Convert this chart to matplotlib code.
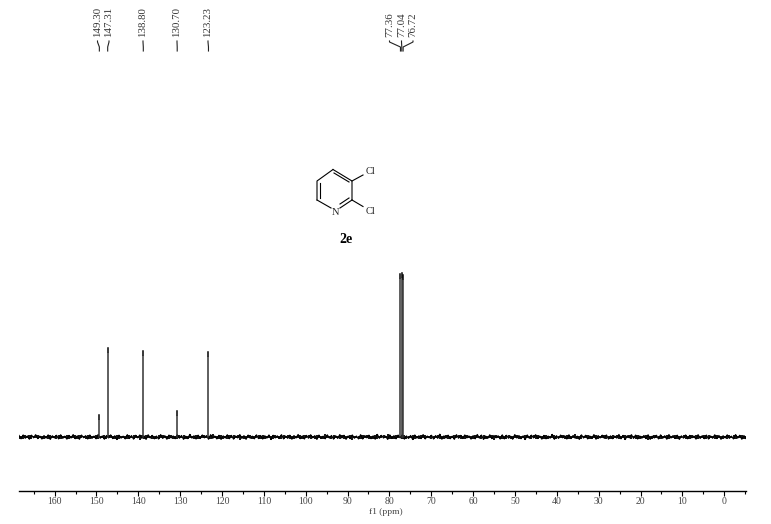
from matplotlib import pyplot as plt
import numpy as np

plt.rcParams['font.family'] = ['Liberation Serif', 'DejaVu Serif']

W, H = 771, 524
BASE_Y = 437
AXIS_Y = 490.5

peak_ppm = [149.30, 147.31, 138.80, 130.70, 123.23, 77.36, 77.04, 76.72]
peak_height = [22, 89, 86, 26, 85, 163, 164, 162]
peak_labels = ['149.30', '147.31', '138.80', '130.70', '123.23', '77.36', '77.04', '76.72']
label_x = [97.5, 109, 143, 177, 208, 389.5, 401.5, 413]

# baseline noise read by eye, left to right, in pixels around zero
noise = [
    1.5, -1.8, 2.0, -1.2, 1.0, -2.2, 1.8, -0.8, 2.3, -1.6, 0.9, -2.0, 1.4, -1.1, 2.1, -2.4, 1.2, -0.9, 1.7, -1.9,
    2.2, -1.3, 0.8, -2.1, 1.6, -1.0, 2.4, -1.7, 1.1, -2.3, 1.9, -0.7, 1.3, -2.0, 2.0, -1.4, 0.9, -1.8, 2.5, -1.2,
    1.0, -2.2, 1.5, -0.9, 2.1, -1.6, 1.2, -2.5, 1.8, -1.1, 0.8, -1.9, 2.3, -1.5, 1.4, -2.1, 1.7, -0.8, 2.0, -1.3,
    1.1, -2.4, 2.2, -1.0, 1.6, -1.8, 0.9, -2.0, 2.4, -1.4, 1.3, -2.2, 1.9, -0.9, 1.0, -1.7, 2.1, -1.2, 1.5, -2.3,
    0.8, -1.6, 2.6, -1.1, 1.2, -2.0, 1.8, -1.5, 2.0, -0.8, 1.4, -2.2, 2.3, -1.3, 0.9, -1.9, 1.7, -2.4, 1.1, -1.0,
    2.2, -1.7, 1.6, -2.1, 1.0, -0.9, 2.4, -1.4, 1.3, -2.3, 1.9, -1.2, 0.8, -1.8, 2.1, -1.6, 1.5, -2.0, 1.2, -1.1,
    2.0, -2.5, 1.7, -0.9, 1.1, -1.5, 2.3, -1.9, 0.9, -1.3, 1.8, -2.2, 1.4, -1.0, 2.5, -1.7, 1.0, -2.0, 1.6, -1.2,
    2.2, -0.8, 1.3, -2.4, 1.9, -1.5, 0.8, -1.8, 2.1, -1.1, 1.5, -2.1, 1.2, -1.4, 2.4, -0.9, 1.7, -2.3, 1.0, -1.6,
    2.0, -1.2, 0.9, -1.9, 2.3, -2.0, 1.4, -0.8, 1.8, -1.7, 1.1, -2.2, 2.6, -1.3, 1.6, -1.0, 0.8, -2.4, 2.1, -1.5,
    1.3, -1.8, 1.9, -0.9, 2.2, -2.1, 1.0, -1.4, 1.5, -2.5, 2.0, -1.1, 1.2, -1.6, 2.4, -1.9, 0.9, -0.8, 1.7, -2.0,
    1.4, -1.3, 2.8, -2.2, 1.1, -1.0, 1.8, -1.7, 0.8, -2.3, 2.3, -1.2, 1.6, -1.5, 2.0, -0.9, 1.0, -2.1, 1.3, -1.8,
    2.5, -1.1, 1.9, -2.4, 0.9, -1.4, 2.2, -1.6, 1.5, -0.8, 1.2, -2.0, 2.1, -1.9, 1.7, -1.2, 0.8, -2.2, 2.4, -1.0,
    1.4, -1.7, 1.1, -2.5, 2.0, -1.3, 1.8, -0.9, 2.3, -1.5, 1.0, -2.1, 1.6, -1.8, 0.9, -1.1, 2.6, -2.3, 1.3, -1.4,
    1.9, -0.8, 1.2, -2.0, 2.2, -1.6, 1.5, -1.2, 0.8, -2.4, 2.1, -1.0, 1.7, -1.9, 1.0, -1.5, 2.4, -2.2, 1.4, -0.9,
    1.8, -1.3, 2.0, -2.1, 1.1, -1.7, 0.9, -1.1, 2.5, -1.8, 1.6, -2.5, 1.3, -0.8, 2.3, -1.4, 1.9, -2.0, 1.0, -1.2,
    1.5, -1.6, 2.2, -2.3, 0.8, -0.9, 1.7, -1.9, 2.1, -1.3, 1.2, -2.2, 2.4, -1.0, 1.4, -1.5, 1.8, -2.4, 1.1, -1.1,
    2.0, -1.8, 1.6, -0.8, 0.9, -2.1, 2.3, -1.4, 1.3, -1.7, 1.9, -2.0, 1.0, -1.2, 2.2, -1.6, 1.5, -2.3, 1.2, -0.9,
    2.1, -1.3, 0.8, -1.9, 2.4, -1.1, 1.7, -2.2, 1.4, -1.5,
]

# ppm range of the axis, from where its ends land on the ticks
ppm_left = 168.5
ppm_right = -5.2

fig = plt.figure(figsize=(W / 100, H / 100), dpi=100)
ax = fig.add_axes([19 / W, (H - AXIS_Y) / H, (746 - 19) / W, AXIS_Y / H])
ax.set_xlim(ppm_left, ppm_right)
ax.set_ylim(BASE_Y - AXIS_Y, BASE_Y)

# the scan's baseline is a solid dark band, so strokes go over a thick core
noise_x = np.linspace(ppm_left, ppm_right, len(noise))
ax.vlines(noise_x, noise, noise[::-1], color='black', linewidth=1.3)
ax.plot(noise_x, noise, color='black', linewidth=0.9)

# peaks have a small break just under the tip, as in the scan
for ppm, height in zip(peak_ppm, peak_height):
    ax.plot([ppm, ppm], [0, height - 5], color='#333333', linewidth=1.1)
    ax.plot([ppm, ppm], [height - 3.5, height], color='black', linewidth=1.1)

for side in ['top', 'left', 'right']:
    ax.spines[side].set_visible(False)
ax.spines['bottom'].set_linewidth(1)
ax.yaxis.set_visible(False)
ax.patch.set_visible(False)
ax.set_xticks(list(range(160, -1, -10)))
ax.set_xticks(list(range(165, -6, -10)), minor=True)
ax.tick_params(axis='x', which='major', length=3.3, width=0.8, labelsize=7, pad=1.5, labelcolor='#444444')
ax.tick_params(axis='x', which='minor', length=2.2, width=0.8)

# overlay in image pixels for the leaders, labels and the structure
over = fig.add_axes([0, 0, 1, 1])
over.set_xlim(0, W)
over.set_ylim(H, 0)
over.axis('off')
over.patch.set_visible(False)

over.text(386, 512, 'f1 (ppm)', fontsize=6.8, color='#444444', ha='center', va='center')

to_pixel = over.transData.inverted()
for ppm, text, x in zip(peak_ppm, peak_labels, label_x):
    peak_x = to_pixel.transform(ax.transData.transform((ppm, 0)))[0]
    over.text(x, 37, text, rotation=90, fontsize=7.8, color='#333333', ha='center', va='bottom')
    over.plot([x, x, peak_x, peak_x], [41, 42, 47, 51], color='#222222', linewidth=0.8)

# 2,3-dichloropyridine
ring_x = [333, 352, 352, 317, 317, 333]
ring_y = [169.5, 181, 200, 200, 181, 169.5]
over.plot(ring_x[:3], ring_y[:3], color='black', linewidth=0.8)
over.plot(ring_x[3:], ring_y[3:], color='black', linewidth=0.8)
over.plot([352, 340], [200, 208], color='black', linewidth=0.8)
over.plot([317, 331], [200, 208], color='black', linewidth=0.8)
over.plot([334, 349], [173, 182], color='black', linewidth=0.8)
over.plot([320, 320], [183, 198], color='black', linewidth=0.8)
over.plot([349, 340], [198, 204], color='black', linewidth=0.8)
over.plot([352, 363], [181, 175], color='black', linewidth=0.8)
over.plot([352, 363], [200, 206.5], color='black', linewidth=0.8)
over.text(336, 212.5, 'N', fontsize=7.5, color='#222222', ha='center', va='center')
over.text(371, 172, 'Cl', fontsize=7.5, color='#222222', ha='center', va='center')
over.text(371, 212, 'Cl', fontsize=7.5, color='#222222', ha='center', va='center')
over.text(346, 239.5, '2e', fontsize=10, fontweight='bold', ha='center', va='center')

fig.savefig('out.png', dpi=100)
